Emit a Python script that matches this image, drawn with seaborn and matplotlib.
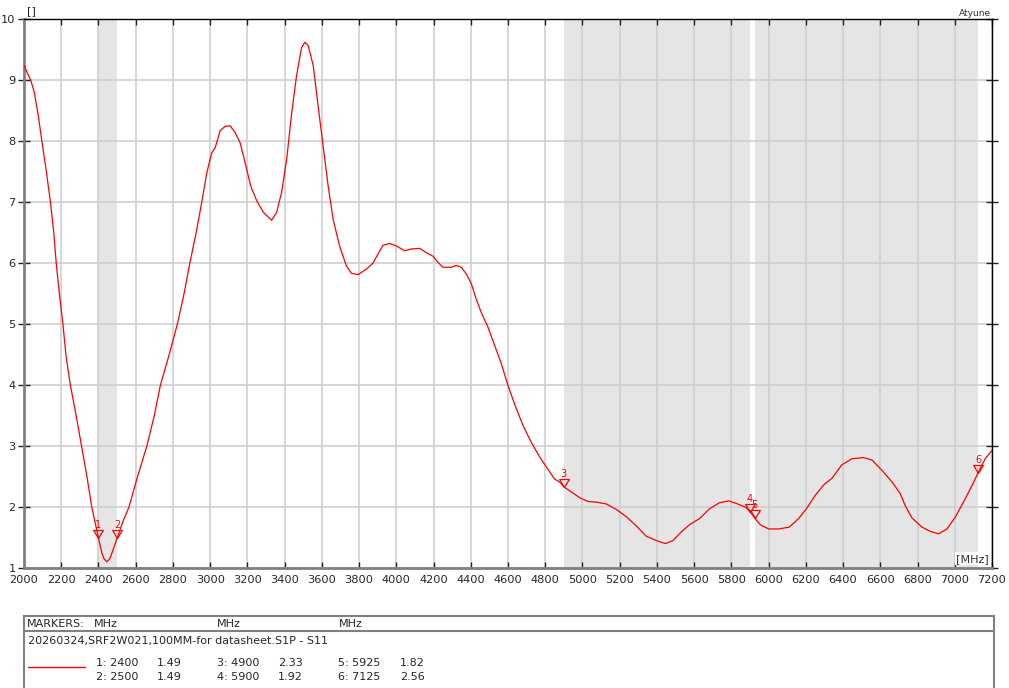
import numpy as np
import pandas as pd
import matplotlib
matplotlib.use("Agg")
import matplotlib.pyplot as plt
import seaborn as sns

# S11 trace (MHz, value)
freq = [2000, 2020, 2036, 2055, 2075, 2096, 2120, 2142, 2160, 2173, 2190, 2209,
        2225, 2236, 2249, 2280, 2309, 2338, 2364, 2385, 2400, 2418, 2430, 2445,
        2460, 2473, 2490, 2500, 2530, 2564, 2610, 2660, 2700, 2733, 2780, 2824,
        2860, 2891, 2925, 2955, 2982, 3009, 3027, 3054, 3080, 3107, 3134, 3161,
        3188, 3218, 3250, 3286, 3330, 3357, 3384, 3411, 3438, 3464, 3491, 3509,
        3527, 3554, 3580, 3607, 3634, 3661, 3696, 3732, 3759, 3795, 3839, 3875,
        3902, 3928, 3964, 4000, 4045, 4081, 4125, 4161, 4197, 4224, 4250, 4295,
        4322, 4349, 4376, 4403, 4429, 4456, 4492, 4528, 4564, 4600, 4635, 4680,
        4725, 4770, 4805, 4850, 4877, 4900, 4939, 4986, 5030, 5075, 5128, 5182,
        5236, 5289, 5343, 5397, 5446, 5486, 5530, 5575, 5629, 5682, 5736, 5786,
        5834, 5879, 5900, 5925, 5955, 6000, 6054, 6111, 6161, 6205, 6250, 6295,
        6340, 6393, 6447, 6510, 6555, 6609, 6663, 6707, 6734, 6770, 6824, 6869,
        6913, 6958, 7004, 7057, 7102, 7125, 7165, 7200]
s11 = [9.24, 9.10, 9.00, 8.80, 8.45, 8.00, 7.50, 7.00, 6.50, 6.00, 5.50, 5.00,
       4.50, 4.26, 4.00, 3.50, 3.00, 2.50, 2.00, 1.70, 1.49, 1.25, 1.15, 1.10,
       1.15, 1.25, 1.40, 1.49, 1.75, 2.00, 2.50, 3.00, 3.50, 4.00, 4.50, 5.00,
       5.50, 6.00, 6.50, 7.00, 7.48, 7.81, 7.89, 8.17, 8.24, 8.25, 8.14, 7.97,
       7.64, 7.26, 7.02, 6.83, 6.70, 6.83, 7.16, 7.70, 8.46, 9.07, 9.53, 9.62,
       9.56, 9.23, 8.57, 7.91, 7.26, 6.71, 6.27, 5.95, 5.83, 5.81, 5.90, 6.00,
       6.15, 6.29, 6.32, 6.28, 6.20, 6.23, 6.24, 6.17, 6.11, 6.01, 5.93, 5.93,
       5.96, 5.93, 5.82, 5.66, 5.41, 5.19, 4.95, 4.65, 4.35, 3.99, 3.69, 3.34,
       3.06, 2.82, 2.66, 2.46, 2.41, 2.33, 2.25, 2.15, 2.09, 2.08, 2.05, 1.96,
       1.84, 1.69, 1.52, 1.45, 1.40, 1.45, 1.59, 1.71, 1.81, 1.97, 2.07, 2.10,
       2.05, 1.99, 1.92, 1.82, 1.71, 1.64, 1.64, 1.67, 1.81, 1.98, 2.19, 2.36,
       2.47, 2.69, 2.79, 2.81, 2.77, 2.60, 2.41, 2.22, 2.02, 1.82, 1.67, 1.60,
       1.56, 1.64, 1.84, 2.14, 2.41, 2.56, 2.80, 2.93]

# markers
marker_ids = [1, 2, 3, 4, 5, 6]
marker_freq = [2400, 2500, 4900, 5900, 5925, 7125]
marker_val = [1.49, 1.49, 2.33, 1.92, 1.82, 2.56]

x_ticks = list(range(2000, 7201, 200))
y_ticks = list(range(1, 11))

trace_title = "20260324,SRF2W021,100MM-for datasheet.S1P - S11"

W, H = 1009, 688
sns.set_style("white")
plt.rcParams['font.family'] = ['DejaVu Sans']

fig = plt.figure(figsize=(W / 100, H / 100), dpi=100)
ax = fig.add_axes([24 / W, 1 - 568 / H, 968 / W, 549 / H])

# shaded bands between marker pairs
for a, b in zip(marker_freq[0::2], marker_freq[1::2]):
    ax.axvspan(a, b, color='#e5e5e5', lw=0, zorder=0.2)

df = pd.DataFrame({'f': freq, 'v': s11})
sns.lineplot(data=df, x='f', y='v', ax=ax, color='#ff0000', lw=0.9, zorder=3)

# marker triangles (apex on the trace)
tri = [(0, 0), (-0.6, 1), (0.6, 1), (0, 0)]
ax.plot(marker_freq, marker_val, ls='none', marker=tri, ms=11.5,
        mfc='none', mec='#ff0000', mew=0.9, zorder=4)
for i, f, v in zip(marker_ids, marker_freq, marker_val):
    ax.annotate(str(i), (f, v), xytext=(0, 6), textcoords='offset points',
                ha='center', va='bottom', fontsize=7, color='#ff0000')

ax.set_xlim(2000, 7200)
ax.set_ylim(1, 10)
ax.set_xticks(x_ticks)
ax.set_yticks(y_ticks)
ax.set_xlabel('')
ax.set_ylabel('')
ax.set_axisbelow(True)
ax.grid(True, color='#cfcfcf', lw=1.2)

for side in ['left', 'bottom']:
    ax.spines[side].set_color('#808080')
    ax.spines[side].set_linewidth(2)
for side in ['top', 'right']:
    ax.spines[side].set_color('black')
    ax.spines[side].set_linewidth(1)

ax.tick_params(axis='x', which='major', direction='in', length=4, width=1,
               color='#202020', labelsize=8.2, pad=5, top=True, bottom=True)
ax.tick_params(axis='y', which='major', direction='inout', length=8, width=1,
               color='#202020', labelsize=8.2, pad=2, left=True, right=True)

fig.text(27 / W, 1 - 11 / H, '[]', fontsize=8, ha='left', va='center')
fig.text(991 / W, 1 - 13 / H, 'Atyune', fontsize=6.5, ha='right', va='center',
         color='#333333')
ax.text(0.997, 0.008, '[MHz]', transform=ax.transAxes, fontsize=8,
        ha='right', va='bottom', color='#333333',
        bbox=dict(facecolor='white', edgecolor='none', pad=1))

# marker table below the chart (pixel coordinates)
tb = fig.add_axes([24 / W, -10 / H, 970 / W, (H - 616 + 10) / H])
tb.set_xlim(24, 994)
tb.set_ylim(698, 616)
tb.set_xticks([])
tb.set_yticks([])
for sp in tb.spines.values():
    sp.set_color('#808080')
    sp.set_linewidth(1.5)
tb.axhline(631, color='#808080', lw=1.5)

fs = 8
tb.text(27, 624, 'MARKERS:', fontsize=fs, va='center')
for xm in [94, 217, 339]:
    tb.text(xm, 624, 'MHz', fontsize=fs, va='center')
tb.text(28, 641, trace_title, fontsize=fs, va='center')
tb.plot([28, 85], [667, 667], color='#ff0000', lw=1)

cols = [(96, 157), (217, 278), (338, 400)]
rows = [663, 677]
for k, (i, f, v) in enumerate(zip(marker_ids, marker_freq, marker_val)):
    cx, vx = cols[k // 2]
    ry = rows[k % 2]
    tb.text(cx, ry, f'{i}: {f}', fontsize=fs, va='center')
    tb.text(vx, ry, f'{v:.2f}', fontsize=fs, va='center')

fig.savefig('out.png', dpi=100)
